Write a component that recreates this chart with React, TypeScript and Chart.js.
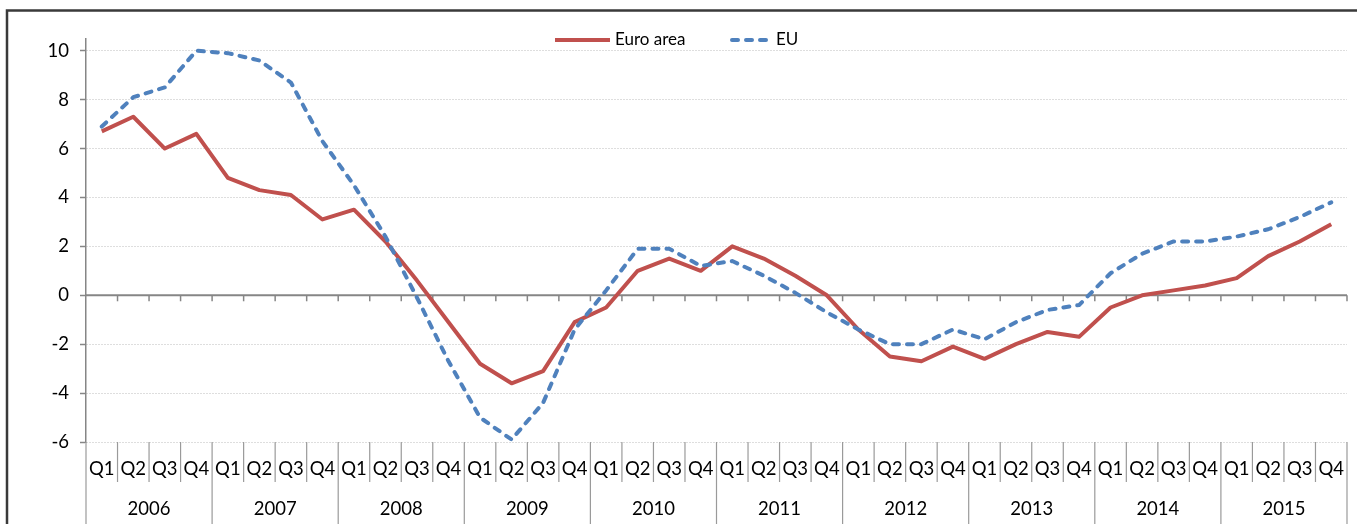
import React, { useEffect, useRef } from 'react';
import { Chart, registerables } from 'chart.js';

Chart.register(...registerables);

const years = ['2006', '2007', '2008', '2009', '2010', '2011', '2012', '2013', '2014', '2015'];
const quarters = ['Q1', 'Q2', 'Q3', 'Q4'];
const categories = years.flatMap((y) => quarters.map((q) => `${y} ${q}`));

const euroArea = [
  6.7, 7.3, 6.0, 6.6,
  4.8, 4.3, 4.1, 3.1,
  3.5, 2.2, 0.6, -1.1,
  -2.8, -3.6, -3.1, -1.1,
  -0.5, 1.0, 1.5, 1.0,
  2.0, 1.5, 0.8, 0.0,
  -1.4, -2.5, -2.7, -2.1,
  -2.6, -2.0, -1.5, -1.7,
  -0.5, 0.0, 0.2, 0.4,
  0.7, 1.6, 2.2, 2.9,
];

const eu = [
  6.9, 8.1, 8.5, 10.0,
  9.9, 9.6, 8.7, 6.3,
  4.5, 2.4, -0.1, -2.7,
  -5.0, -5.9, -4.4, -1.4,
  0.2, 1.9, 1.9, 1.2,
  1.4, 0.8, 0.1, -0.7,
  -1.4, -2.0, -2.0, -1.4,
  -1.8, -1.1, -0.6, -0.4,
  0.9, 1.7, 2.2, 2.2,
  2.4, 2.7, 3.2, 3.8,
];

const seriesLabels = ['Euro area', 'EU'];
const yMin = -6;
const yMax = 10.5;
const yStep = 2;

const FONT = 'Lato, "Open Sans", "DejaVu Sans", sans-serif';
const AXIS_GRAY = '#868686';
const RED = '#C0504D';
const BLUE = '#4F81BD';
const EU_DASH = [6, 8];

export default function App() {
  const ref = useRef<HTMLCanvasElement>(null);

  useEffect(() => {
    const canvas = ref.current;
    if (!canvas) return;

    const decor = {
      id: 'excelDecor',
      beforeDraw(chart: any) {
        const ctx = chart.ctx;
        ctx.save();
        ctx.strokeStyle = '#3a3a3a';
        ctx.lineWidth = 2.5;
        ctx.strokeRect(7, 10.5, 1420, 620);
        ctx.restore();
      },
      beforeDatasetsDraw(chart: any) {
        const { ctx, chartArea, scales } = chart;
        const x = scales.x;
        const y = scales.y;
        const n = categories.length;
        const step = x.getPixelForValue(1) - x.getPixelForValue(0);
        const first = x.getPixelForValue(0) - step / 2;
        const bound = (i: number) => first + i * step;
        const y0 = y.getPixelForValue(0);
        const bottom = chartArea.bottom;

        ctx.save();
        ctx.strokeStyle = AXIS_GRAY;
        ctx.lineWidth = 2;
        ctx.beginPath();
        ctx.moveTo(chartArea.left, y0);
        ctx.lineTo(chartArea.right, y0);
        ctx.stroke();

        ctx.lineWidth = 1.5;
        for (let i = 1; i <= n; i++) {
          const bx = bound(i);
          ctx.beginPath();
          ctx.moveTo(bx, y0);
          ctx.lineTo(bx, y0 + 6);
          ctx.stroke();
        }

        ctx.strokeStyle = '#9a9a9a';
        ctx.lineWidth = 1.2;
        for (let i = 0; i <= n; i++) {
          const bx = bound(i);
          const end = i % 4 === 0 ? 530 : 482;
          ctx.beginPath();
          ctx.moveTo(bx, bottom);
          ctx.lineTo(bx, end);
          ctx.stroke();
        }

        ctx.fillStyle = '#000';
        ctx.textAlign = 'center';
        ctx.textBaseline = 'middle';
        ctx.font = `18.5px ${FONT}`;
        for (let i = 0; i < n; i++) {
          const q = categories[i].split(' ')[1];
          ctx.fillText(q, x.getPixelForValue(i), 469);
        }
        years.forEach((yr, k) => {
          const cx = (bound(k * 4) + bound(k * 4 + 4)) / 2;
          ctx.fillText(yr, cx, 509);
        });
        ctx.restore();
      },
      afterDraw(chart: any) {
        const ctx = chart.ctx;
        const ds = chart.data.datasets;
        const ly = 40;
        ctx.save();
        ctx.font = `17px ${FONT}`;
        ctx.fillStyle = '#000';
        ctx.textBaseline = 'middle';
        ctx.textAlign = 'left';

        ctx.strokeStyle = ds[0].borderColor;
        ctx.lineWidth = 4;
        ctx.lineCap = 'butt';
        ctx.beginPath();
        ctx.moveTo(555, ly);
        ctx.lineTo(610, ly);
        ctx.stroke();
        ctx.fillText(ds[0].label, 615, ly);

        ctx.strokeStyle = ds[1].borderColor;
        ctx.lineCap = 'round';
        ctx.setLineDash(EU_DASH);
        ctx.beginPath();
        ctx.moveTo(732, ly);
        ctx.lineTo(767, ly);
        ctx.stroke();
        ctx.setLineDash([]);
        ctx.fillText(ds[1].label, 776, ly);
        ctx.restore();
      },
    };

    const chart = new Chart(canvas, {
      type: 'line',
      data: {
        labels: categories,
        datasets: [
          {
            label: seriesLabels[0],
            data: euroArea,
            borderColor: RED,
            backgroundColor: RED,
            borderWidth: 4,
            pointRadius: 0,
            tension: 0,
            borderJoinStyle: 'round',
            order: 1,
          },
          {
            label: seriesLabels[1],
            data: eu,
            borderColor: BLUE,
            backgroundColor: BLUE,
            borderWidth: 4,
            borderDash: EU_DASH,
            borderCapStyle: 'round',
            borderJoinStyle: 'round',
            pointRadius: 0,
            tension: 0,
            order: 0,
          },
        ],
      },
      options: {
        responsive: false,
        animation: false,
        layout: { padding: { left: 0, top: 38.5, right: 10, bottom: 82 } },
        plugins: {
          legend: { display: false },
          tooltip: { enabled: false },
          title: { display: false },
        },
        scales: {
          x: {
            type: 'category',
            offset: true,
            display: false,
            grid: { display: false },
          },
          y: {
            min: yMin,
            max: yMax,
            afterFit(scale: any) {
              scale.width = 86;
            },
            ticks: {
              stepSize: yStep,
              includeBounds: false,
              color: '#000',
              padding: 11,
              font: { family: FONT, size: 18.5 },
            },
            grid: {
              color: '#BDBDBD',
              lineWidth: 1,
              drawTicks: true,
              tickLength: 6,
              tickColor: AXIS_GRAY,
              tickWidth: 1.5,
              tickBorderDash: [],
            },
            border: { display: true, color: AXIS_GRAY, width: 1.5, dash: [1, 2] },
          },
        },
      },
      plugins: [decor],
    } as any);

    if ((document as any).fonts && (document as any).fonts.ready) {
      (document as any).fonts.ready.then(() => {
        try { chart.update('none'); } catch (e) { /* destroyed */ }
      });
    }

    return () => chart.destroy();
  }, []);

  return (
    <div style={{ position: 'absolute', left: 0, top: 0, width: 1357, height: 524, overflow: 'hidden', background: '#fff' }}>
      <canvas ref={ref} width={1357} height={524} style={{ display: 'block' }} />
    </div>
  );
}
